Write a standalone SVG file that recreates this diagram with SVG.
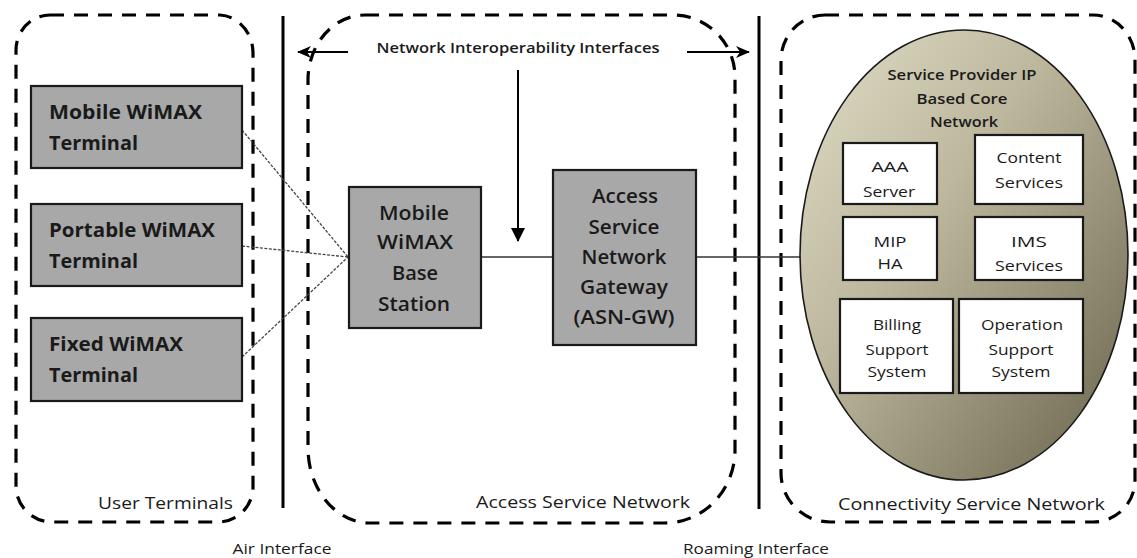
<svg xmlns="http://www.w3.org/2000/svg" width="1137" height="558" viewBox="0 0 1137 558">
  <style>
    .zone { fill: none; stroke: #000; stroke-width: 3.2; stroke-dasharray: 14 10; }
    .divider { stroke: #000; stroke-width: 3; }
    .gray { fill: #a8a8a8; stroke: #1a1a1a; stroke-width: 2.2; }
    .white { fill: #fff; stroke: #1a1a1a; stroke-width: 2.2; }
    .link { stroke: #333; stroke-width: 1.6; fill: none; }
    .radio { stroke: #444; stroke-width: 1.3; stroke-dasharray: 3 1.5; fill: none; }
    .arrow { stroke: #000; stroke-width: 2; fill: none; }
    text { font-family: "Open Sans", "Liberation Sans", sans-serif; fill: #1a1a1a; }
    .term { font-size: 19px; font-weight: bold; }
    .node { font-size: 20px; font-weight: 600; text-anchor: middle; }
    .core { font-size: 15px; text-anchor: middle; }
    .coretitle { font-size: 15px; font-weight: 600; text-anchor: middle; }
    .zonelabel { font-size: 17px; }
    .small { font-size: 14px; text-anchor: middle; }
  </style>
  <defs>
    <linearGradient id="coreFill" x1="0" y1="0" x2="1" y2="1">
      <stop offset="0" stop-color="#e2dec8"/>
      <stop offset="0.4" stop-color="#bcb79d"/>
      <stop offset="1" stop-color="#67624a"/>
    </linearGradient>
    <!-- barbed head for the interoperability arrows -->
    <marker id="head" viewBox="0 0 14 12" refX="13" refY="6" markerWidth="14" markerHeight="12" markerUnits="userSpaceOnUse" orient="auto">
      <path d="M0,0 L14,6 L0,12 L4,6 Z" fill="#000"/>
    </marker>
    <!-- solid triangle head -->
    <marker id="solid" viewBox="0 0 14 14" refX="13" refY="7" markerWidth="14" markerHeight="14" markerUnits="userSpaceOnUse" orient="auto">
      <path d="M0,0 L14,7 L0,14 Z" fill="#000"/>
    </marker>
  </defs>

  <!-- zones -->
  <g id="zones">
    <path class="zone" d="M50,15 H220 A35,38 0 0 1 253,53 V487 A35,35 0 0 1 218,522 H52 A36,36 0 0 1 16,486 V50 A34,35 0 0 1 50,15 Z"/>
    <path class="zone" d="M365,15 H673 A62,62 0 0 1 735,77 V450 A70,73 0 0 1 665,523 H370 A62,75 0 0 1 308,448 V80 A57,65 0 0 1 365,15 Z"/>
    <path class="zone" d="M825,15 H1093 A42,45 0 0 1 1135,60 V480 A42,42 0 0 1 1093,522 H830 A49,49 0 0 1 781,473 V60 A44,45 0 0 1 825,15 Z"/>
    <line class="divider" x1="283" y1="16" x2="283" y2="508"/>
    <line class="divider" x1="759" y1="16" x2="759" y2="509"/>
  </g>

  <!-- connectors -->
  <g id="connectors">
    <line class="radio" x1="242" y1="130" x2="348" y2="257"/>
    <line class="radio" x1="242" y1="246" x2="348" y2="257"/>
    <line class="radio" x1="242" y1="357" x2="348" y2="257"/>
    <line class="link" x1="481" y1="257" x2="553" y2="257"/>
    <line class="link" x1="696" y1="257" x2="801" y2="257"/>
    <line class="arrow" x1="348" y1="52" x2="298" y2="52" marker-end="url(#head)"/>
    <line class="arrow" x1="687" y1="52" x2="749" y2="52" marker-end="url(#head)"/>
    <line class="arrow" x1="518" y1="70" x2="518" y2="241" marker-end="url(#solid)"/>
  </g>

  <!-- user terminals -->
  <g id="mobile-terminal">
    <rect class="gray" x="31" y="86" width="211" height="82"/>
    <text class="term" x="49" y="119" textLength="153" lengthAdjust="spacingAndGlyphs">Mobile WiMAX</text>
    <text class="term" x="49" y="150" textLength="89" lengthAdjust="spacingAndGlyphs">Terminal</text>
  </g>
  <g id="portable-terminal">
    <rect class="gray" x="31" y="204" width="211" height="82"/>
    <text class="term" x="49" y="237" textLength="166" lengthAdjust="spacingAndGlyphs">Portable WiMAX</text>
    <text class="term" x="49" y="268" textLength="89" lengthAdjust="spacingAndGlyphs">Terminal</text>
  </g>
  <g id="fixed-terminal">
    <rect class="gray" x="31" y="318" width="211" height="83"/>
    <text class="term" x="49" y="351" textLength="134" lengthAdjust="spacingAndGlyphs">Fixed WiMAX</text>
    <text class="term" x="49" y="382" textLength="89" lengthAdjust="spacingAndGlyphs">Terminal</text>
  </g>

  <!-- access service network -->
  <g id="base-station">
    <rect class="gray" x="349" y="187" width="132" height="141"/>
    <text class="node" x="414" y="220" textLength="70" lengthAdjust="spacingAndGlyphs">Mobile</text>
    <text class="node" x="415" y="249" textLength="76" lengthAdjust="spacingAndGlyphs">WiMAX</text>
    <text class="node" x="415" y="280" textLength="46" lengthAdjust="spacingAndGlyphs">Base</text>
    <text class="node" x="414" y="311" textLength="72" lengthAdjust="spacingAndGlyphs">Station</text>
  </g>
  <g id="asn-gateway">
    <rect class="gray" x="553" y="170" width="143" height="175"/>
    <text class="node" x="625" y="203" textLength="66" lengthAdjust="spacingAndGlyphs">Access</text>
    <text class="node" x="624" y="234" textLength="71" lengthAdjust="spacingAndGlyphs">Service</text>
    <text class="node" x="624" y="264" textLength="85" lengthAdjust="spacingAndGlyphs">Network</text>
    <text class="node" x="624" y="294" textLength="88" lengthAdjust="spacingAndGlyphs">Gateway</text>
    <text class="node" x="624" y="324" textLength="101" lengthAdjust="spacingAndGlyphs">(ASN-GW)</text>
  </g>

  <!-- connectivity service network -->
  <g id="core-network">
    <ellipse cx="964" cy="255" rx="164" ry="225" fill="url(#coreFill)" stroke="#1a1a1a" stroke-width="1.6"/>
    <text class="coretitle" x="962" y="80" textLength="149" lengthAdjust="spacingAndGlyphs">Service Provider IP</text>
    <text class="coretitle" x="962" y="104" textLength="91" lengthAdjust="spacingAndGlyphs">Based Core</text>
    <text class="coretitle" x="964" y="127" textLength="68" lengthAdjust="spacingAndGlyphs">Network</text>
  </g>
  <g id="aaa-server">
    <rect class="white" x="843" y="143" width="94" height="61"/>
    <text class="core" x="890" y="172" textLength="37" lengthAdjust="spacingAndGlyphs">AAA</text>
    <text class="core" x="889" y="197" textLength="52" lengthAdjust="spacingAndGlyphs">Server</text>
  </g>
  <g id="content-services">
    <rect class="white" x="975" y="135" width="108" height="69"/>
    <text class="core" x="1029" y="163" textLength="65" lengthAdjust="spacingAndGlyphs">Content</text>
    <text class="core" x="1029" y="188" textLength="68" lengthAdjust="spacingAndGlyphs">Services</text>
  </g>
  <g id="mip-ha">
    <rect class="white" x="843" y="217" width="94" height="63"/>
    <text class="core" x="890" y="247" textLength="33" lengthAdjust="spacingAndGlyphs">MIP</text>
    <text class="core" x="890" y="269" textLength="25" lengthAdjust="spacingAndGlyphs">HA</text>
  </g>
  <g id="ims-services">
    <rect class="white" x="975" y="217" width="108" height="63"/>
    <text class="core" x="1029" y="247" textLength="36" lengthAdjust="spacingAndGlyphs">IMS</text>
    <text class="core" x="1029" y="271" textLength="68" lengthAdjust="spacingAndGlyphs">Services</text>
  </g>
  <g id="billing-support">
    <rect class="white" x="840" y="299" width="113" height="94"/>
    <text class="core" x="897" y="330" textLength="48" lengthAdjust="spacingAndGlyphs">Billing</text>
    <text class="core" x="897" y="355" textLength="63" lengthAdjust="spacingAndGlyphs">Support</text>
    <text class="core" x="897" y="377" textLength="59" lengthAdjust="spacingAndGlyphs">System</text>
  </g>
  <g id="operation-support">
    <rect class="white" x="959" y="299" width="124" height="94"/>
    <text class="core" x="1022" y="330" textLength="82" lengthAdjust="spacingAndGlyphs">Operation</text>
    <text class="core" x="1021" y="355" textLength="65" lengthAdjust="spacingAndGlyphs">Support</text>
    <text class="core" x="1021" y="377" textLength="59" lengthAdjust="spacingAndGlyphs">System</text>
  </g>

  <!-- labels -->
  <g id="labels">
    <text class="small" x="518" y="53" textLength="283" lengthAdjust="spacingAndGlyphs" font-weight="600">Network Interoperability Interfaces</text>
    <text class="zonelabel" x="98" y="509" textLength="135" lengthAdjust="spacingAndGlyphs">User Terminals</text>
    <text class="zonelabel" x="476" y="508" textLength="214" lengthAdjust="spacingAndGlyphs">Access Service Network</text>
    <text class="zonelabel" x="838" y="510" textLength="267" lengthAdjust="spacingAndGlyphs">Connectivity Service Network</text>
    <text class="small" x="282" y="554" textLength="99" lengthAdjust="spacingAndGlyphs">Air Interface</text>
    <text class="small" x="756" y="554" textLength="146" lengthAdjust="spacingAndGlyphs">Roaming Interface</text>
  </g>
</svg>
